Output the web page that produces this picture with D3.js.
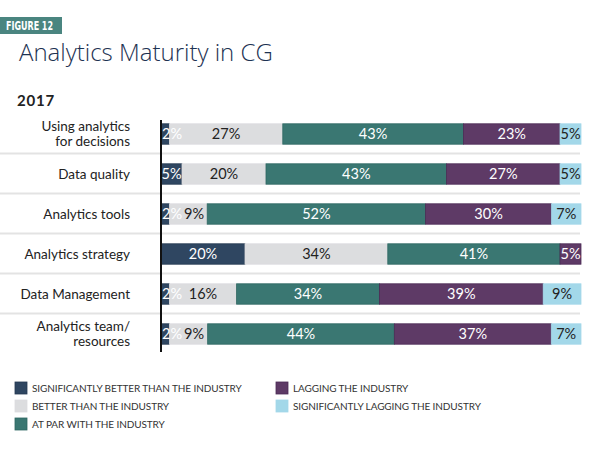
<!DOCTYPE html>
<html><head><meta charset="utf-8">
<script src="https://cdn.jsdelivr.net/npm/d3@7"></script>
<style>body{margin:0;background:#fff}svg{display:block}</style>
</head><body>
<svg id="c" width="600" height="461"></svg>
<script>
const categories = ["Using analytics\nfor decisions","Data quality","Analytics tools","Analytics strategy","Data Management","Analytics team/\nresources"];
const seriesNames = ["SIGNIFICANTLY BETTER THAN THE INDUSTRY","BETTER THAN THE INDUSTRY","AT PAR WITH THE INDUSTRY","LAGGING THE INDUSTRY","SIGNIFICANTLY LAGGING THE INDUSTRY"];
const sigBetter = [2,5,2,20,2,2];
const better    = [27,20,9,34,16,9];
const atPar     = [43,43,52,41,34,44];
const lagging   = [23,27,30,5,39,37];
const sigLag    = [5,5,7,0,9,7];
const colors = ["#2f4661","#dcdddf","#3a7772","#5e3a66","#a3d8e9"];
const strokes = ["#243850","#dcdddf","#2e6762","#4c2b55","#a3d8e9"];
const textColors = ["#fff","#222","#fff","#fff","#222"];

const keys = ["s0","s1","s2","s3","s4"];
const table = categories.map((c,i)=>({cat:c,s0:sigBetter[i],s1:better[i],s2:atPar[i],s3:lagging[i],s4:sigLag[i]}));
const stack = d3.stack().keys(keys).offset(d3.stackOffsetExpand)(table);

const svg = d3.select("#c");
const font = "Lato, 'Open Sans', sans-serif";

// header
svg.append("rect").attr("x",0).attr("y",17).attr("width",62).attr("height",17).attr("fill","#4a8580");
svg.append("text").attr("x",6).attr("y",30).attr("fill","#fff")
  .attr("font-family","'DejaVu Sans Condensed','Liberation Sans Narrow',sans-serif").attr("font-weight","bold")
  .attr("font-size",12).attr("textLength",47).attr("lengthAdjust","spacingAndGlyphs").text("FIGURE 12");
svg.append("text").attr("x",19).attr("y",61).attr("fill","#1d3252")
  .attr("font-family","'Open Sans',sans-serif").attr("font-weight",300).attr("font-size",24)
  .text("Analytics Maturity in CG");
svg.append("text").attr("x",17).attr("y",106).attr("fill","#222").attr("font-family",font)
  .attr("font-weight","bold").attr("font-size",15).attr("letter-spacing",0.8).text("2017");

const x = d3.scaleLinear().domain([0,1]).range([161,581]);
const y = d3.scaleBand().domain(categories).range([114,354]).paddingInner(0.49).paddingOuter(0.245);

// separators
categories.slice(1).forEach(c=>{
  const yy = y(c) - y.step()*y.paddingInner()/2 - 0.5;
  svg.append("line").attr("x1",0).attr("x2",580).attr("y1",yy).attr("y2",yy)
    .attr("stroke","#e3e3e3").attr("stroke-width",2);
});

const g = svg.append("g");
stack.forEach((layer,li)=>{
  g.selectAll(null).data(layer).enter().append("rect")
    .attr("x",d=>x(d[0])).attr("y",d=>y(d.data.cat))
    .attr("width",d=>Math.max(0,x(d[1])-x(d[0]))).attr("height",y.bandwidth())
    .attr("fill",colors[li]).attr("stroke",d=>d[1]>d[0]?strokes[li]:"none").attr("stroke-width",0.8);
});

// labels with overlap avoidance
const lbl = svg.append("g").attr("font-family",font).attr("font-size",14.5);
table.forEach((row,ri)=>{
  let prevRight = -Infinity;
  keys.forEach((k,li)=>{
    const v = row[k]; if(!v) return;
    const seg = stack[li][ri];
    const cx = (x(seg[0])+x(seg[1]))/2;
    const t = lbl.append("text").attr("y",y(row.cat)+y.bandwidth()/2).attr("dy","0.36em")
      .attr("fill",textColors[li]).text(v+"%");
    const w = t.node().getComputedTextLength();
    let left = cx - w/2;
    if(left < x(seg[0])+1 && w > x(seg[1])-x(seg[0])) left = x(seg[0])+1;
    if(left < prevRight+2) left = prevRight+2;
    t.attr("x",left);
    prevRight = left+w;
  });
});

// axis
svg.append("line").attr("x1",161).attr("x2",161).attr("y1",120).attr("y2",352).attr("stroke","#111").attr("stroke-width",2);

// category labels
categories.forEach(c=>{
  const lines = c.split("\n");
  const cy = y(c)+y.bandwidth()/2;
  lines.forEach((l,i)=>{
    svg.append("text").attr("x",130).attr("text-anchor","end").attr("fill","#222")
      .attr("font-family",font).attr("font-size",13.5)
      .attr("y",cy + (i-(lines.length-1)/2)*15.5).attr("dy","0.35em").text(l);
  });
});

// legend
const legPos = [[15,388],[15,406],[15,424],[276,388],[276,406]];
seriesNames.forEach((n,i)=>{
  const [lx,ly] = legPos[i];
  svg.append("rect").attr("x",lx).attr("y",ly-6).attr("width",12).attr("height",12)
    .attr("fill",colors[i]).attr("stroke",strokes[i]).attr("stroke-width",0.8);
  svg.append("text").attr("x",lx+17).attr("y",ly).attr("dy","0.36em").attr("fill","#333")
    .attr("font-family",font).attr("font-size",10).attr("letter-spacing",-0.1).text(n);
});
</script>
</body></html>
